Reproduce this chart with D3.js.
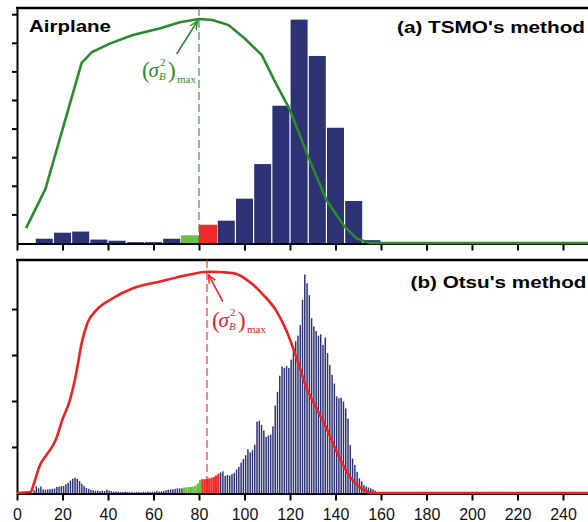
<!DOCTYPE html>
<html>
<head>
<meta charset="utf-8">
<script src="https://cdn.jsdelivr.net/npm/d3@7"></script>
<style>
body { margin: 0; background: #fff; }
svg { display: block; font-family: "Liberation Sans", Arial, sans-serif; }
</style>
</head>
<body>
<div id="chart"></div>
<script>
// (a) TSMO: histogram in bins of 8 gray levels
const tsmoBinStart = [8, 16, 24, 32, 40, 48, 56, 64, 72, 80, 88, 96, 104, 112, 120, 128, 136, 144, 152];
const tsmoCounts = [0.15, 0.36, 0.40, 0.12, 0.08, 0.03, 0.03, 0.15, 0.27, 0.64, 0.78, 1.55, 2.76, 4.80, 7.81, 6.54, 4.03, 1.47, 0.10];
const tsmoVariance = [[4, 0.52], [12.5, 1.89], [28.4, 6.30], [33, 6.68], [41, 6.98], [51, 7.27], [63, 7.51], [71.6, 7.72], [80, 7.83],
  [86, 7.80], [93, 7.62], [100, 7.16], [107.6, 6.57], [113.4, 5.64], [120, 4.65], [128, 3.02], [136, 1.50], [144, 0.57], [149.3, 0.16], [155, 0], [255, 0]];
const tsmoThreshold = 80;

// (b) Otsu: histogram per gray level, index = gray level 0..158
const otsuCounts = [
  0, 0, 0, 0, 0, 0, 0, 0.06,
  0.15, 0.10, 0.14, 0.08, 0.07, 0.08, 0.08, 0.09, 0.10,
  0.13, 0.14, 0.15, 0.15, 0.19, 0.22, 0.27, 0.31, 0.33, 0.31,
  0.26, 0.20, 0.15, 0.11, 0.09, 0.07, 0.06, 0.05, 0.05, 0.04,
  0.05, 0.04, 0.07, 0.05, 0.04, 0.03, 0.03, 0.03, 0.02, 0.02,
  0.03, 0.02, 0.02, 0.02, 0.01, 0.02, 0.02, 0.01, 0.02, 0.02,
  0.03, 0.02, 0.03, 0.03, 0.04, 0.03, 0.04, 0.04, 0.06, 0.07,
  0.08, 0.08, 0.09, 0.10, 0.10, 0.10, 0.12, 0.12, 0.13, 0.13,
  0.14, 0.16, 0.21, 0.28, 0.30, 0.30, 0.31, 0.32, 0.33, 0.35,
  0.38, 0.42, 0.45, 0.47, 0.37, 0.39, 0.38, 0.41, 0.44, 0.51,
  0.57, 0.66, 0.74, 0.82, 0.95, 0.88, 0.93, 1.05, 1.55, 1.57,
  1.48, 1.36, 1.22, 1.25, 1.27, 1.45, 1.90, 2.20, 2.55, 2.75,
  2.72, 2.76, 2.72, 2.90, 3.10, 3.30, 3.42, 3.65, 4.20, 4.75,
  4.56, 4.30, 3.80, 3.62, 3.52, 3.42, 3.45, 3.22, 3.38, 3.04,
  2.78, 2.57, 2.38, 2.10, 2.06, 2.07, 1.99, 1.84, 1.62, 1.04,
  0.75, 0.61, 0.46, 0.32, 0.25, 0.17, 0.14, 0.12, 0.10, 0.08,
  0.05, 0.02];
const otsuVariance = [[0, 0], [6, 0.02], [7.2, 0.17], [10, 0.60], [13, 0.83], [17, 1.15], [20, 1.60], [23, 1.98], [26, 2.60], [28.5, 3.28],
  [31, 3.70], [35, 3.98], [42, 4.23], [51, 4.45], [63, 4.60], [75, 4.74], [84, 4.81], [95, 4.78], [103, 4.56], [108, 4.32],
  [114, 3.96], [118.5, 3.52], [123, 2.92], [127.3, 2.28], [131.7, 1.84], [136, 1.41], [140.5, 0.90], [145, 0.46], [148, 0.25],
  [152, 0.08], [157, 0], [255, 0]];
const otsuThreshold = 83.5;

const xTicks = [0, 20, 40, 60, 80, 100, 120, 140, 160, 180, 200, 220, 240];
const tsmoYTicks = [1, 2, 3, 4, 5, 6, 7, 8];
const otsuYTicks = [1, 2, 3, 4];

const navy = "#2c3273", lightGreen = "#6cc040", brightRed = "#f02a2a";
const darkGreen = "#2a8a2e", lineRed = "#ee2222";

const width = 588, height = 522;
const svg = d3.select("#chart").append("svg")
  .attr("width", width).attr("height", height);

const defs = svg.append("defs");
[["arrowGreen", darkGreen], ["arrowRed", lineRed]].forEach(([id, c]) => {
  defs.append("marker").attr("id", id)
    .attr("viewBox", "0 0 10 10").attr("refX", 9).attr("refY", 5)
    .attr("markerWidth", 9).attr("markerHeight", 9)
    .attr("markerUnits", "userSpaceOnUse").attr("orient", "auto")
    .append("path").attr("d", "M0,1 L9,5 L0,9")
    .attr("fill", "none").attr("stroke", c).attr("stroke-width", 1.6);
});

const x = d3.scaleLinear().domain([0, 255]).range([17, 17 + 255 * 2.275]);

const drawPanel = (opt) => {
  const y = d3.scaleLinear().domain([0, opt.yMax]).range([opt.bottom, opt.top]);
  const g = svg.append("g");

  // frame top + axes
  g.append("line").attr("x1", 16).attr("x2", width).attr("y1", opt.top).attr("y2", opt.top)
    .attr("stroke", "#000").attr("stroke-width", 2.4);

  const ya = g.append("g").attr("transform", `translate(${x(0)},0)`)
    .call(d3.axisLeft(y).tickValues(opt.yTicks).tickSize(5).tickSizeOuter(0).tickFormat(""));
  const xa = g.append("g").attr("transform", `translate(0,${opt.bottom + 0.5})`)
    .call(d3.axisBottom(x).tickValues(xTicks).tickSize(7).tickSizeOuter(0)
      .tickFormat(opt.labels ? d3.format("d") : ""));
  [ya, xa].forEach(a => {
    a.selectAll("path,line").attr("stroke", "#000").attr("stroke-width", 2);
  });
  xa.selectAll("text").attr("font-size", 16).attr("fill", "#111").attr("dy", "1.0em");

  // histogram (threshold-coloured bins drawn as solid blocks)
  g.append("g").selectAll("rect").data(opt.bars).join("rect")
    .attr("x", d => x(d.g0) + (d.c === navy ? opt.gap / 2 : 0))
    .attr("width", d => x(d.g1) - x(d.g0) - (d.c === navy ? opt.gap : 0))
    .attr("y", d => y(d.v))
    .attr("height", d => y(0) - y(d.v))
    .attr("fill", d => d.c);

  // threshold
  g.append("line")
    .attr("x1", x(opt.threshold)).attr("x2", x(opt.threshold))
    .attr("y1", opt.top).attr("y2", opt.bottom)
    .attr("stroke", opt.lineColor).attr("stroke-width", 1.1)
    .attr("stroke-dasharray", "8,4");

  // between-class variance curve
  const line = d3.line().x(d => x(d[0])).y(d => y(d[1])).curve(opt.curve);
  g.append("path").datum(opt.variance)
    .attr("d", line)
    .attr("fill", "none").attr("stroke", opt.lineColor).attr("stroke-width", 2.6);

  // annotation arrow
  g.append("line")
    .attr("x1", x(opt.arrowFrom[0])).attr("y1", y(opt.arrowFrom[1]))
    .attr("x2", x(opt.arrowTo[0])).attr("y2", y(opt.arrowTo[1]))
    .attr("stroke", opt.lineColor).attr("stroke-width", 1.6)
    .attr("marker-end", `url(#${opt.marker})`);

  sigmaLabel(g, opt.labelPos[0], opt.labelPos[1], opt.lineColor);

  g.append("text").attr("x", opt.title[1]).attr("y", opt.title[2])
    .attr("font-weight", "bold").attr("font-size", 17)
    .attr("textLength", opt.title[3]).attr("lengthAdjust", "spacingAndGlyphs")
    .text(opt.title[0]);
  return g;
};

function sigmaLabel(g, x0, y0, color) {
  const t = g.append("g").attr("fill", color).attr("font-family", "'Liberation Serif', 'Times New Roman', serif");
  t.append("text").attr("x", x0).attr("y", y0).attr("font-size", 23).text("(");
  t.append("text").attr("x", x0 + 6.5).attr("y", y0 - 1).attr("font-size", 21).attr("font-style", "italic").text("σ");
  t.append("text").attr("x", x0 + 18).attr("y", y0 - 12).attr("font-size", 11).text("2");
  t.append("text").attr("x", x0 + 17).attr("y", y0 + 2).attr("font-size", 11).attr("font-style", "italic").text("B");
  t.append("text").attr("x", x0 + 26).attr("y", y0).attr("font-size", 23).text(")");
  t.append("text").attr("x", x0 + 35).attr("y", y0 + 5).attr("font-size", 11).text("max");
}

const tsmoBars = tsmoBinStart.map((s, i) => ({
  g0: s, g1: s + 8, v: tsmoCounts[i],
  c: s === 72 ? lightGreen : s === 80 ? brightRed : navy
}));
const otsuBars = otsuCounts.map((v, i) => ({
  g0: i, g1: i + 1, v: v,
  c: (i >= 73 && i <= 80) ? lightGreen : (i >= 81 && i <= 88) ? brightRed : navy
})).filter(d => d.v > 0);

drawPanel({
  top: 8, bottom: 243, yMax: 235 / 28.6, yTicks: tsmoYTicks, labels: false,
  bars: tsmoBars, gap: 1.2, threshold: tsmoThreshold, lineColor: darkGreen,
  variance: tsmoVariance, curve: d3.curveLinear,
  arrowFrom: [70.2, 6.61], arrowTo: [79.3, 7.76], marker: "arrowGreen",
  labelPos: [142, 78],
  title: ["(a) TSMO's method", 397, 32.5, 188]
});
drawPanel({
  top: 260, bottom: 493, yMax: 233 / 46, yTicks: otsuYTicks, labels: true,
  bars: otsuBars, gap: 0.8, threshold: otsuThreshold, lineColor: lineRed,
  variance: otsuVariance, curve: d3.curveMonotoneX,
  arrowFrom: [90.5, 4.16], arrowTo: [84.2, 4.74], marker: "arrowRed",
  labelPos: [212, 328],
  title: ["(b) Otsu's method", 410.5, 288, 176]
});

svg.append("text").attr("x", 29).attr("y", 32)
  .attr("font-weight", "bold").attr("font-size", 17)
  .attr("textLength", 82).attr("lengthAdjust", "spacingAndGlyphs")
  .text("Airplane");
</script>
</body>
</html>
